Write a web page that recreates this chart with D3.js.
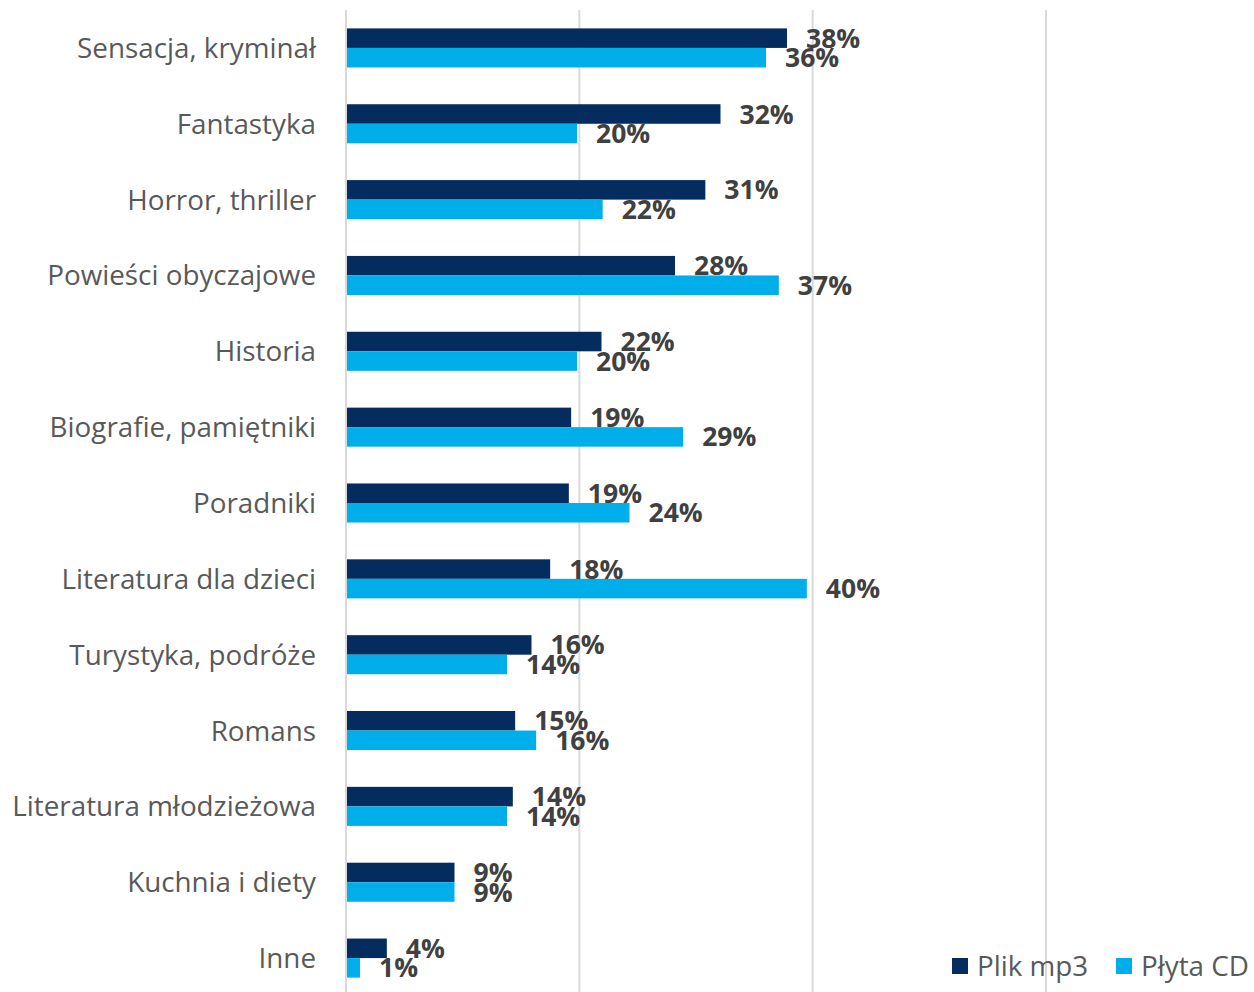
<!DOCTYPE html>
<html><head><meta charset="utf-8">
<script src="https://cdn.jsdelivr.net/npm/d3@7"></script>
<style>body{margin:0;background:#fff}svg{display:block}</style>
</head><body>
<svg id="c" width="1254" height="992"></svg>
<script>
const categories = ["Sensacja, kryminał","Fantastyka","Horror, thriller","Powieści obyczajowe","Historia","Biografie, pamiętniki","Poradniki","Literatura dla dzieci","Turystyka, podróże","Romans","Literatura młodzieżowa","Kuchnia i diety","Inne"];
const seriesNames = ["Plik mp3","Płyta CD"];
const mp3 = [37.8,32.1,30.8,28.2,21.9,19.3,19.1,17.5,15.9,14.5,14.3,9.3,3.5];
const cd = [36.0,19.8,22.0,37.1,19.8,28.9,24.3,39.5,13.8,16.3,13.8,9.3,1.2];
const xTicks = [0,20,40,60];
const colors = ["#042C5E","#00AEEA"];

const svg = d3.select("#c");
const x = d3.scaleLinear().domain([0,60]).range([346,1046]);
const y = d3.scaleBand().domain(categories).range([10,996]).paddingInner(0.485).paddingOuter(0.2425);
const ys = d3.scaleBand().domain(seriesNames).range([0,y.bandwidth()]);

svg.append("g").selectAll("line").data(xTicks).join("line")
  .attr("x1",d=>x(d)).attr("x2",d=>x(d)).attr("y1",10).attr("y2",992)
  .attr("stroke","#D9D9D9").attr("stroke-width",2);

const data = [mp3, cd];
const g = svg.append("g");
data.forEach((vals,si)=>{
  g.append("g").selectAll("rect").data(vals).join("rect")
    .attr("x",x(0)+1).attr("y",(d,i)=>y(categories[i])+ys(seriesNames[si]))
    .attr("width",d=>x(d)-x(0)-1).attr("height",ys.bandwidth())
    .attr("fill",colors[si]);
});
data.forEach((vals,si)=>{
  g.append("g").selectAll("text").data(vals).join("text")
    .attr("x",d=>x(d)+19).attr("y",(d,i)=>y(categories[i])+ys(seriesNames[si])+ys.bandwidth()/2)
    .attr("dy","0.36em")
    .attr("font-family","Open Sans").attr("font-weight","bold").attr("font-size",26.5)
    .attr("fill","#404040").text(d=>Math.round(d)+"%");
});

svg.append("g").selectAll("text").data(categories).join("text")
  .attr("x",316).attr("y",d=>y(d)+y.bandwidth()/2).attr("dy","0.36em")
  .attr("text-anchor","end").attr("font-family","Open Sans").attr("font-size",27.8)
  .attr("fill","#595959").text(d=>d);

const legend = svg.append("g");
const lx = [952,1116];
seriesNames.forEach((s,i)=>{
  legend.append("rect").attr("x",lx[i]).attr("y",958).attr("width",16).attr("height",16).attr("fill",colors[i]);
  legend.append("text").attr("x",lx[i]+25).attr("y",966).attr("dy","0.36em")
    .attr("font-family","Open Sans").attr("font-size",27.8).attr("fill","#595959").text(s);
});
</script>
</body></html>
